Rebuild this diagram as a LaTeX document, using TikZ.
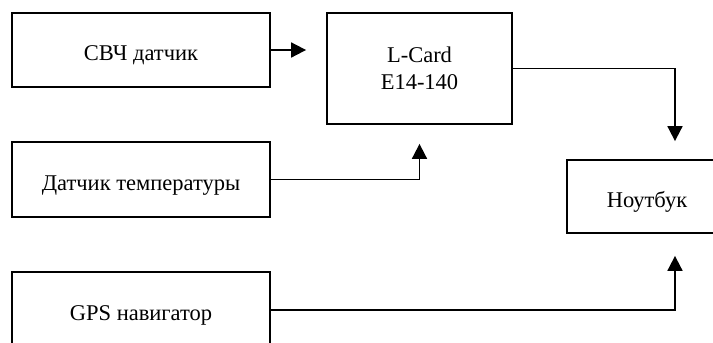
\documentclass[tikz,border=0pt]{standalone}
\usepackage{fontspec}
\setmainfont{Liberation Serif}
\usetikzlibrary{arrows.meta,positioning}

\begin{document}
\begin{tikzpicture}[x=1pt,y=-1pt,
  block/.style={draw,line width=1.8pt,rectangle,align=center,inner sep=0pt,
    font=\fontsize{22.5}{26.5}\selectfont},
  oneline/.style={block,text height=25pt,text depth=4pt},
  link/.style={line width=1.8pt,-{Triangle[length=15pt,width=15pt]}}]
  \clip (0,0) rectangle (713,343);
  % sources on the left
  \node[oneline,minimum width=258pt,minimum height=74pt] (svch) at (141,50) {СВЧ датчик};
  \node[oneline,minimum width=258pt,minimum height=75pt] (temp) at (141,179.5) {Датчик температуры};
  \node[oneline,minimum width=258pt,minimum height=76pt] (gps) at (141,310) {GPS навигатор};
  % ADC module and laptop
  \node[block,minimum width=185pt,minimum height=111pt] (lcard) at (419.5,68.5) {L-Card\\E14-140};
  \node[oneline,minimum width=160pt,minimum height=73pt] (note) at (647,196.5) {Ноутбук};
  % connections
  \draw[link,shorten >=20pt] (svch.east) -- (svch.east -| lcard.west);
  \draw[link,shorten >=19pt] (temp.east) -| (lcard.south);
  \draw[link,shorten >=18pt] (lcard.east) -| ([xshift=28pt]note.north);
  \draw[link,shorten >=22pt] (gps.east) -| ([xshift=28pt]note.south);
\end{tikzpicture}
\end{document}
